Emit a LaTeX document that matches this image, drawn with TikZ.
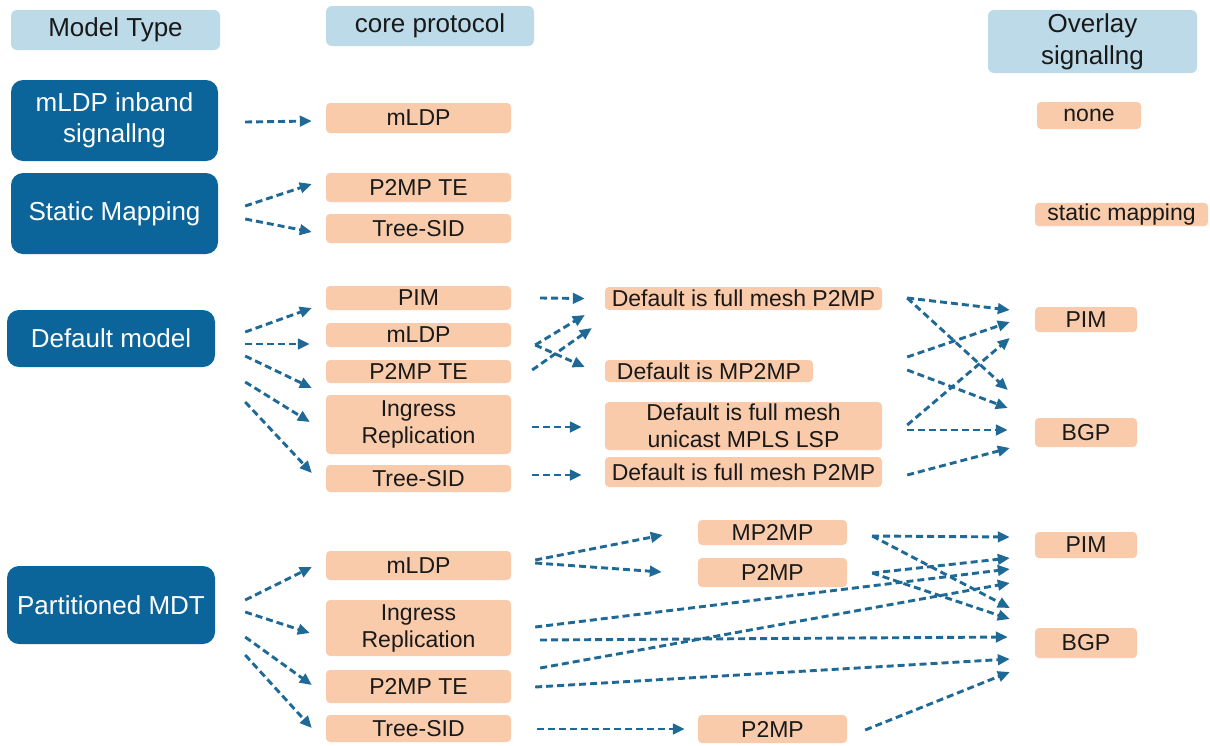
\documentclass[tikz,border=0pt]{standalone}
\usepackage{fontspec}
\setmainfont{Liberation Sans}
\usetikzlibrary{arrows.meta}
\definecolor{hdrblue}{RGB}{188,218,231}
\definecolor{modelblue}{RGB}{12,101,154}
\definecolor{peach}{RGB}{249,203,170}
\definecolor{flowblue}{RGB}{31,105,150}

\begin{document}
\begin{tikzpicture}[x=1pt, y=-1pt,
    hdr/.style = {rounded corners=6pt, fill=hdrblue, text=black!90, align=center, inner sep=1pt, font=\fontsize{26}{32}\selectfont},
    model/.style = {rounded corners=12pt, fill=modelblue, text=white, align=center, inner sep=1pt, font=\fontsize{26}{31}\selectfont},
    proto/.style = {rounded corners=4pt, fill=peach, text=black!90, align=center, inner sep=1pt, font=\fontsize{23}{27}\selectfont},
    col1/.style = {proto, minimum width=185pt},
    col3/.style = {proto, minimum width=102pt},
    flow/.style = {draw=flowblue, line width=2.9pt, dash pattern=on 7pt off 4pt, -{Triangle[length=12pt,width=10.5pt]}}]

        \useasboundingbox (0,0) rectangle (1210,745);

        \node[hdr, minimum width=209pt, minimum height=40pt] (hmodel) at (115.5,30) {Model Type};
        \node[hdr, minimum width=208pt, minimum height=40pt] (hcore) at (430,26) {core protocol};
        \node[hdr, minimum width=209pt, minimum height=63pt] (hoverlay) at (1092.5,41.5) {Overlay\\signallng};

        \node[model, minimum width=207pt, minimum height=81pt] (inband) at (114.5,120.5) {mLDP inband\\signallng};
        \node[model, minimum width=207pt, minimum height=81pt] (static) at (114.5,213.5) {Static Mapping};
        \node[model, minimum width=208pt, minimum height=57pt] (default) at (111,338.5) {Default model};
        \node[model, minimum width=208pt, minimum height=78pt] (part) at (111,605) {Partitioned MDT};

        \node[col1, minimum height=30pt] (smldp) at (418.5,118) {mLDP};
        \node[col1, minimum height=29pt] (ste) at (418.5,187.5) {P2MP TE};
        \node[col1, minimum height=29pt] (stree) at (418.5,228.5) {Tree-SID};
        \node[col1, minimum height=24pt] (dpim) at (418.5,298) {PIM};
        \node[col1, minimum height=24pt] (dmldp) at (418.5,335) {mLDP};
        \node[col1, minimum height=23pt] (dte) at (418.5,371.5) {P2MP TE};
        \node[col1, minimum height=59pt] (ding) at (418.5,424.5) {Ingress\\Replication};
        \node[col1, minimum height=27pt] (dtree) at (418.5,478.5) {Tree-SID};
        \node[col1, minimum height=29pt] (pmldp) at (418.5,565.5) {mLDP};
        \node[col1, minimum height=56pt] (ping) at (418.5,628) {Ingress\\Replication};
        \node[col1, minimum height=33pt] (pte) at (418.5,686.5) {P2MP TE};
        \node[col1, minimum height=27pt] (ptree) at (418.5,728.5) {Tree-SID};

        \node[proto, minimum width=277pt, minimum height=23pt] (dfull) at (743.5,298.5) {Default is full mesh P2MP};
        \node[proto, minimum width=208pt, minimum height=22pt] (dmp) at (709,371) {Default is MP2MP};
        \node[proto, minimum width=277pt, minimum height=48pt] (duni) at (743.5,426) {Default is full mesh\\unicast MPLS LSP};
        \node[proto, minimum width=277pt, minimum height=30pt] (dfull2) at (743.5,472) {Default is full mesh P2MP};
        \node[proto, minimum width=149pt, minimum height=25pt] (pmp) at (772.5,532.5) {MP2MP};
        \node[proto, minimum width=149pt, minimum height=29pt] (pp) at (772.5,572.5) {P2MP};
        \node[proto, minimum width=149pt, minimum height=28pt] (pp2) at (772.5,729) {P2MP};

        \node[proto, minimum width=104pt, minimum height=27pt] (onone) at (1089,115.5) {none};
        \node[proto, minimum width=173pt, minimum height=23pt] (omap) at (1121.5,214.5) {static mapping};
        \node[col3, minimum height=25pt] (opim) at (1086,319.5) {PIM};
        \node[col3, minimum height=29pt] (obgp) at (1086,432.5) {BGP};
        \node[col3, minimum height=26pt] (opim2) at (1086,545) {PIM};
        \node[col3, minimum height=30pt] (obgp2) at (1086,643) {BGP};

        \draw[flow] ([shift={(27,1.5)}]inband.east) -- ([shift={(-14,3)}]smldp.west);
        \draw[flow] ([shift={(27,-7.5)}]static.east) -- ([shift={(-14,-3.5)}]ste.west);
        \draw[flow] ([shift={(27,5.5)}]static.east) -- ([shift={(-14,3.5)}]stree.west);

        \draw[flow] ([shift={(30,-6.5)}]default.east) -- ([shift={(-14,10)}]dpim.west);
        \draw[flow] ([shift={(30,5.5)}]default.east) -- ([shift={(-16,9)}]dmldp.west);
        \draw[flow] ([shift={(30,17.5)}]default.east) -- ([shift={(-14,16.5)}]dte.west);
        \draw[flow] ([shift={(30,43.5)}]default.east) -- ([shift={(-16,-2.5)}]ding.west);
        \draw[flow] ([shift={(30,63.5)}]default.east) -- ([shift={(-14,-5.5)}]dtree.west);

        \draw[flow] ([shift={(29,0)}]dpim.east) -- ([shift={(-20,0)}]dfull.west);
        \draw[flow] ([shift={(24,10)}]dmldp.east) -- ([shift={(-20,16.5)}]dfull.west);
        \draw[flow] ([shift={(24,10)}]dmldp.east) -- ([shift={(-20,-4)}]dmp.west);
        \draw[flow] ([shift={(21,-1.5)}]dte.east) -- ([shift={(-13,29.5)}]dfull.west);
        \draw[flow] ([shift={(21,2.5)}]ding.east) -- ([shift={(-23,1)}]duni.west);
        \draw[flow] ([shift={(21,-3.5)}]dtree.east) -- ([shift={(-23,3)}]dfull2.west);

        \draw[flow] ([shift={(25,-0.5)}]dfull.east) -- ([shift={(-25,-9.5)}]opim.west);
        \draw[flow] ([shift={(25,-0.5)}]dfull.east) -- ([shift={(-27,-42.5)}]obgp.west);
        \draw[flow] ([shift={(94,-14)}]dmp.east) -- ([shift={(-25,2.5)}]opim.west);
        \draw[flow] ([shift={(94,-1)}]dmp.east) -- ([shift={(-27,-24.5)}]obgp.west);
        \draw[flow] ([shift={(25,-1)}]duni.east) -- ([shift={(-25,18.5)}]opim.west);
        \draw[flow] ([shift={(25,4)}]duni.east) -- ([shift={(-27,-2.5)}]obgp.west);
        \draw[flow] ([shift={(25,3)}]dfull2.east) -- ([shift={(-25,15.5)}]obgp.west);

        \draw[flow] ([shift={(30,-5)}]part.east) -- ([shift={(-14,1.5)}]pmldp.west);
        \draw[flow] ([shift={(30,7)}]part.east) -- ([shift={(-16,5)}]ping.west);
        \draw[flow] ([shift={(30,32)}]part.east) -- ([shift={(-14,-1.5)}]pte.west);
        \draw[flow] ([shift={(30,50)}]part.east) -- ([shift={(-14,-0.5)}]ptree.west);

        \draw[flow] ([shift={(24,-5.5)}]pmldp.east) -- ([shift={(-35,2.5)}]pmp.west);
        \draw[flow] ([shift={(24,-2.5)}]pmldp.east) -- ([shift={(-36,-0.5)}]pp.west);
        \draw[flow] ([shift={(24,-1)}]ping.east) -- ([shift={(-25,24)}]opim2.west);
        \draw[flow] ([shift={(29,12)}]ping.east) -- ([shift={(-27,-6)}]obgp2.west);
        \draw[flow] ([shift={(29,-18.5)}]pte.east) -- ([shift={(-25,38)}]opim2.west);
        \draw[flow] ([shift={(24,0.5)}]pte.east) -- ([shift={(-25,16)}]obgp2.west);
        \draw[flow] ([shift={(26,0.5)}]ptree.east) -- ([shift={(-13,0)}]pp2.west);

        \draw[flow] ([shift={(25,3.5)}]pmp.east) -- ([shift={(-25,-8)}]opim2.west);
        \draw[flow] ([shift={(25,3.5)}]pmp.east) -- ([shift={(-25,-35)}]obgp2.west);
        \draw[flow] ([shift={(25,0.5)}]pp.east) -- ([shift={(-25,13)}]opim2.west);
        \draw[flow] ([shift={(25,0.5)}]pp.east) -- ([shift={(-25,-24)}]obgp2.west);
        \draw[flow] ([shift={(18,1)}]pp2.east) -- ([shift={(-25,29)}]obgp2.west);

    \end{tikzpicture}
\end{document}
